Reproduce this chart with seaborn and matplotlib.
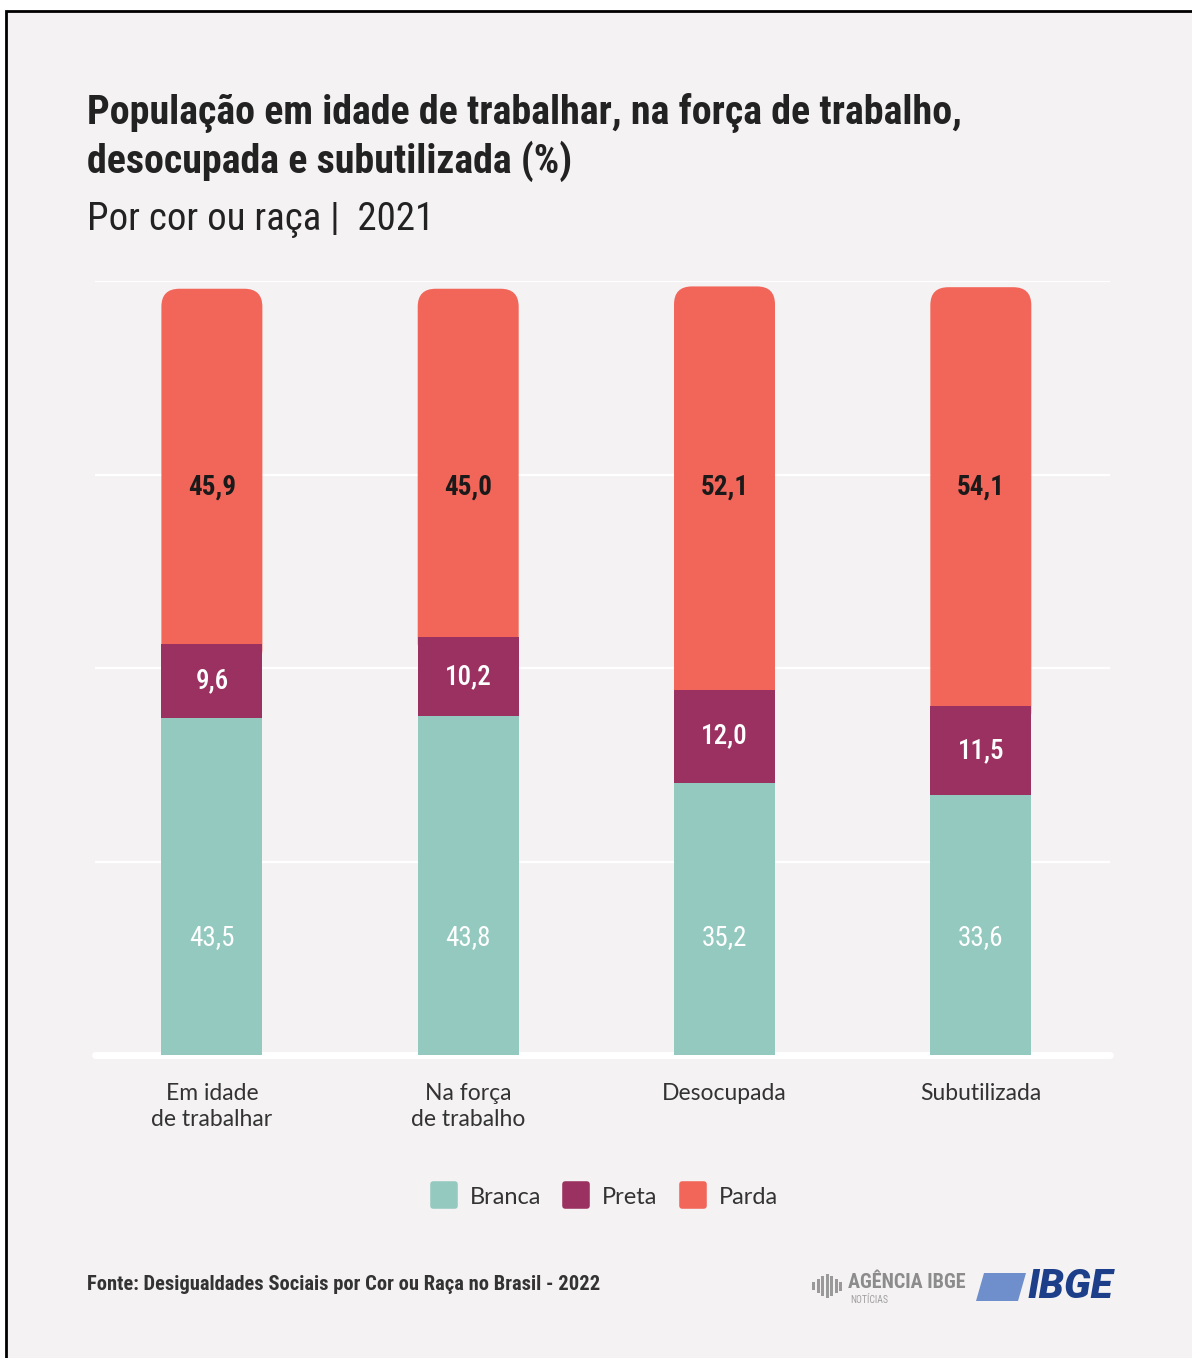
import numpy as np
import pandas as pd
import matplotlib
matplotlib.use("Agg")
import matplotlib.pyplot as plt
import seaborn as sns
from matplotlib.patches import FancyBboxPatch, Rectangle, Polygon
from matplotlib.lines import Line2D
from matplotlib.markers import MarkerStyle

# dados (%)
categorias = ["Em idade\nde trabalhar", "Na força\nde trabalho", "Desocupada", "Subutilizada"]
branca = [43.5, 43.8, 35.2, 33.6]
preta = [9.6, 10.2, 12.0, 11.5]
parda = [45.9, 45.0, 52.1, 54.1]
grupos = ["Branca", "Preta", "Parda"]

cor_branca = "#93C9BF"
cor_preta = "#9B3160"
cor_parda = "#F2665A"
fundo = "#F4F2F3"

COND = ["Roboto Condensed", "Roboto", "DejaVu Sans"]
LEVE = ["Lato", "DejaVu Sans"]

sns.set_theme(style="white")
plt.rcParams["font.family"] = ["Roboto Condensed", "Roboto", "DejaVu Sans"]
plt.rcParams["font.stretch"] = "condensed"

W, H = 1192, 1358
fig = plt.figure(figsize=(W / 100, H / 100), dpi=100)
fig.patch.set_facecolor("white")

# moldura
fig.patches.append(Rectangle((6 / W, -0.01), 1.02, 1 - 11 / H + 0.01,
                             transform=fig.transFigure, facecolor=fundo,
                             edgecolor="black", linewidth=2, zorder=-10))

ax = fig.add_axes([95 / W, 303 / H, 1015 / W, 774 / H])
ax.patch.set_alpha(0)

df = pd.DataFrame({"cat": categorias, "Branca": branca, "Preta": preta, "Parda": parda})
df["c_preta"] = df["Branca"] + df["Preta"]
df["total"] = df["c_preta"] + df["Parda"]

largura = 0.394
for col, cor, z in [("total", cor_parda, 1), ("c_preta", cor_preta, 2), ("Branca", cor_branca, 3)]:
    sns.barplot(data=df, x="cat", y=col, color=cor, saturation=1, width=largura,
                errorbar=None, ax=ax, zorder=z, linewidth=0, edgecolor="none")

xmin, xmax = -0.456, 3.504
ax.set_xlim(xmin, xmax)
ax.set_ylim(0, 100)

# topo arredondado nas barras (começa logo abaixo do topo da Preta)
px_x = 1015 / (xmax - xmin)
px_y = 774 / 100
raio = 18 / px_x
for ret, ret_preta in zip(list(ax.containers[0]), list(ax.containers[1])):
    base = ret_preta.get_height() - 3
    topo = ret.get_height()
    novo = FancyBboxPatch((ret.get_x(), base), ret.get_width(), topo - base,
                          boxstyle=f"round,pad=0,rounding_size={raio}",
                          mutation_aspect=px_x / px_y,
                          facecolor=cor_parda, edgecolor="none", linewidth=0, zorder=1)
    ret.remove()
    ax.add_patch(novo)

# grade e linha de base
for v in [25, 50, 75, 100]:
    ax.axhline(v, color="white", lw=1.6, zorder=0.5)
ax.axhline(0, color="white", lw=5, zorder=0.6, clip_on=False)

sns.despine(ax=ax, left=True, bottom=True)
ax.set_yticks([])
ax.set_xlabel("")
ax.set_ylabel("")
ax.tick_params(axis="x", length=0, pad=20)
ax.set_xticks(range(len(categorias)))
ax.set_xticklabels(categorias, fontsize=16.5, color="#333333", family=LEVE,
                   fontweight="normal", fontstretch="normal", linespacing=1.3, va="top")

# rótulos
fmt = lambda v: f"{v:.1f}".replace(".", ",")
for i in range(len(categorias)):
    ax.text(i, 73.4, fmt(parda[i]), ha="center", va="center", fontsize=19.5,
            fontweight="bold", color="#1a1a1a", family=COND, zorder=5)
    ax.text(i, branca[i] + preta[i] / 2, fmt(preta[i]), ha="center", va="center",
            fontsize=19.5, fontweight="medium", color="white", family=COND, zorder=5)
    ax.text(i, 15.2, fmt(branca[i]), ha="center", va="center", fontsize=19.5,
            color="white", family=COND, zorder=5)

# títulos
fig.text(87 / W, 1 - 113 / H, "População em idade de trabalhar, na força de trabalho,",
         fontsize=28.8, fontweight="bold", color="#222222", family=COND, va="center")
fig.text(87 / W, 1 - 161 / H, "desocupada e subutilizada (%)",
         fontsize=28.8, fontweight="bold", color="#222222", family=COND, va="center")
fig.text(87 / W, 1 - 219 / H, "Por cor ou raça |  2021",
         fontsize=28, color="#222222", family=COND, va="center")

# legenda
ms = MarkerStyle("s", joinstyle="round")
alcas = [Line2D([], [], linestyle="none", marker=ms, markersize=16, markeredgewidth=4,
                markerfacecolor=c, markeredgecolor=c)
         for c in [cor_branca, cor_preta, cor_parda]]
fig.legend(alcas, grupos, loc="center", bbox_to_anchor=(605 / W, 1 - 1197 / H),
           ncol=3, frameon=False,
           prop={"family": LEVE, "size": 17, "weight": "normal", "stretch": "normal"},
           handlelength=1.0, handletextpad=0.6, columnspacing=1.0, labelcolor="#333333")

# rodapé
fig.text(87 / W, 1 - 1284 / H, "Fonte: Desigualdades Sociais por Cor ou Raça no Brasil - 2022",
         fontsize=14.8, fontweight="bold", color="#333333", family=COND, va="center")
fig.text(848 / W, 1 - 1282 / H, "AGÊNCIA IBGE", fontsize=14.5, fontweight="bold",
         color="#8c8c8c", family=COND, va="center")
fig.text(850 / W, 1 - 1300 / H, "NOTÍCIAS", fontsize=7, color="#a0a0a0", family=COND, va="center")
alturas = [8, 14, 20, 24, 20, 14, 9]
for k, hh in enumerate(alturas):
    xx = 812 + k * 4.5
    fig.patches.append(Rectangle((xx / W, 1 - (1286 + hh / 2) / H), 3 / W, hh / H,
                                 transform=fig.transFigure, facecolor="#9a9a9a", edgecolor="none"))
fig.patches.append(Polygon([(976 / W, 1 - 1301 / H), (1018 / W, 1 - 1301 / H),
                            (1026 / W, 1 - 1273 / H), (984 / W, 1 - 1273 / H)],
                           closed=True, transform=fig.transFigure, facecolor="#6E8FCB",
                           edgecolor="none"))
fig.text(1028 / W, 1 - 1287 / H, "IBGE", fontsize=29, fontweight="heavy", style="italic",
         color="#1D3F8A", family=["Roboto", "DejaVu Sans"], fontstretch="normal", va="center")

fig.savefig("out.png", dpi=100, facecolor=fig.get_facecolor())
